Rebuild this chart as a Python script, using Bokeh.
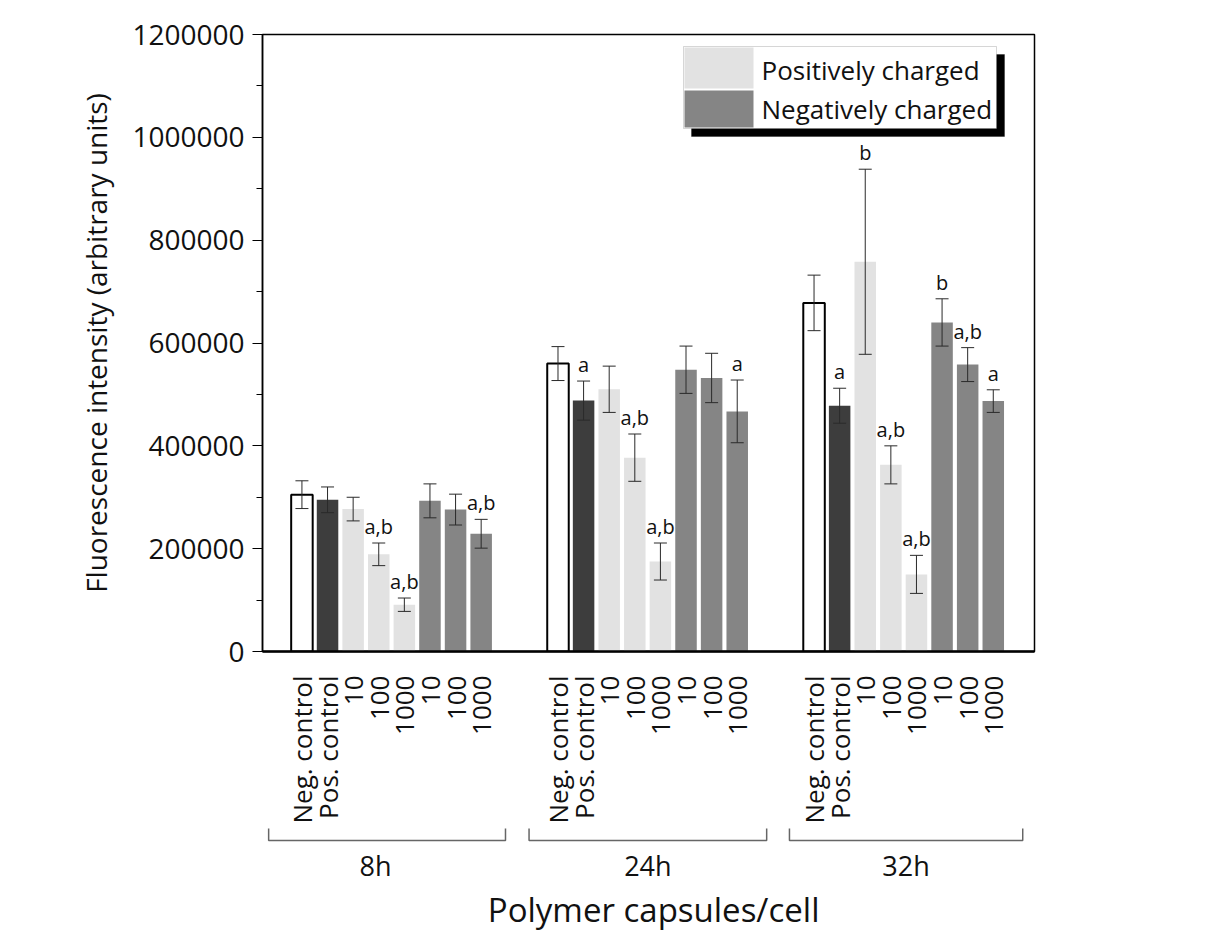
import math
from bokeh.plotting import figure
from bokeh.models import (ColumnDataSource, Range1d, FixedTicker, SingleIntervalTicker,
                          NumeralTickFormatter, Whisker, TeeHead, BoxAnnotation, Label)
from bokeh.layouts import column
from bokeh.core.properties import value
from bokeh.embed import file_html
from bokeh.resources import INLINE

# ---------------- data ----------------
groups = ["8h", "24h", "32h"]
bar_labels = ["Neg. control", "Pos. control", "10", "100", "1000", "10", "100", "1000"]
bar_kinds = ["neg", "pos", "plus", "plus", "plus", "minus", "minus", "minus"]

means_8h = [305000, 295000, 277000, 189000, 91000, 293000, 276000, 229000]
err_8h = [27000, 25000, 23000, 22000, 13000, 33000, 30000, 28000]
sig_8h = ["", "", "", "a,b", "a,b", "", "", "a,b"]

means_24h = [560000, 488000, 510000, 377000, 175000, 548000, 532000, 467000]
err_24h = [33000, 38000, 45000, 46000, 36000, 46000, 48000, 61000]
sig_24h = ["", "a", "", "a,b", "a,b", "", "", "a"]

means_32h = [678000, 478000, 758000, 363000, 150000, 640000, 558000, 487000]
err_32h = [54000, 34000, 180000, 37000, 37000, 46000, 33000, 22000]
sig_32h = ["", "a", "b", "a,b", "a,b", "b", "a,b", "a"]

legend_labels = ["Positively charged", "Negatively charged"]

# ---------------- styles ----------------
fill_map = {"neg": "white", "pos": "#3d3d3d", "plus": "#e2e2e2", "minus": "#858585"}
line_map = {"neg": "black", "pos": None, "plus": None, "minus": None}
FONT = "Open Sans"
SLOT = 10  # slots per group

means_all = [means_8h, means_24h, means_32h]
errs_all = [err_8h, err_24h, err_32h]
sigs_all = [sig_8h, sig_24h, sig_32h]

xs, tops, uppers, lowers, sigs, fills, lines, lws, tick_over = [], [], [], [], [], [], [], [], {}
for g in range(len(groups)):
    for i, lab in enumerate(bar_labels):
        x = g * SLOT + i
        m, e = means_all[g][i], errs_all[g][i]
        xs.append(x)
        tops.append(m)
        uppers.append(m + e)
        lowers.append(m - e)
        sigs.append(sigs_all[g][i])
        k = bar_kinds[i]
        fills.append(fill_map[k])
        lines.append(line_map[k] if line_map[k] else fill_map[k])
        lws.append(2 if k == "neg" else 0.01)
        tick_over[x] = lab

src = ColumnDataSource(dict(x=xs, top=tops, upper=uppers, lower=lowers, sig=sigs,
                            fill=fills, line=lines, lw=lws))

X0, X1 = -1.54, 28.61
FW = 772
LEFT_B, RIGHT_B = 262, 30
FRAME_L, FRAME_B = 262, 651

p = figure(frame_width=FW, frame_height=617, output_backend="svg", toolbar_location=None,
           x_range=Range1d(X0, X1), y_range=Range1d(0, 1200000),
           min_border_left=LEFT_B, min_border_right=RIGHT_B, min_border_top=34,
           min_border_bottom=172)
p.xgrid.visible = False
p.ygrid.visible = False
p.outline_line_color = "black"
p.outline_line_width = 1.5
p.background_fill_color = "white"

p.vbar(x="x", top="top", width=0.84, bottom=0, source=src, fill_color="fill",
       line_color="line", line_width="lw")

wh = Whisker(base="x", upper="upper", lower="lower", source=src, line_color="#2a2a2a",
             line_width=1, level="overlay",
             upper_head=TeeHead(size=13, line_color="#2a2a2a", line_width=1),
             lower_head=TeeHead(size=13, line_color="#2a2a2a", line_width=1))
p.add_layout(wh)

p.text(x="x", y="upper", text="sig", source=src, text_align="center",
       text_baseline="bottom", y_offset=-3, text_font=value(FONT),
       text_font_size="20px", text_color="#111111")

# y axis
ya = p.yaxis[0]
ya.ticker = SingleIntervalTicker(interval=200000, num_minor_ticks=2)
ya.formatter = NumeralTickFormatter(format="0")
ya.major_label_text_font = FONT
ya.major_label_text_font_size = "28px"
ya.major_label_text_color = "#111111"
ya.major_tick_out = 10
ya.major_tick_in = 0
ya.minor_tick_out = 6
ya.minor_tick_in = 0
ya.axis_line_width = 1.5
ya.major_tick_line_width = 1.2
ya.minor_tick_line_width = 1.2
ya.major_label_standoff = 8
ya.axis_label = "Fluorescence intensity (arbitrary units)"
ya.axis_label_text_font = FONT
ya.axis_label_text_font_size = "28px"
ya.axis_label_text_font_style = "normal"
ya.axis_label_text_color = "#111111"
ya.axis_label_standoff = 14

# x axis
xa = p.xaxis[0]
xa.ticker = FixedTicker(ticks=xs)
xa.major_label_overrides = tick_over
xa.major_label_orientation = math.pi / 2
xa.major_label_text_font = FONT
xa.major_label_text_font_size = "26px"
xa.major_label_text_color = "#111111"
xa.major_tick_line_color = None
xa.minor_tick_line_color = None
xa.axis_line_width = 2.5
xa.major_label_standoff = 18

# legend (drawn by hand, with shadow)
def ydat(py):
    return (FRAME_B - py) * 1200000 / 617

def xdat(px):
    return X0 + (px - FRAME_L) * (X1 - X0) / FW

p.add_layout(BoxAnnotation(left=xdat(691), right=xdat(1004), top=ydat(54), bottom=ydat(136),
                           fill_color="black", fill_alpha=1, line_color="black", level="annotation"))
p.add_layout(BoxAnnotation(left=xdat(683), right=xdat(996), top=ydat(46), bottom=ydat(128),
                           fill_color="white", fill_alpha=1, line_color="#777777", line_width=1,
                           level="annotation"))
p.add_layout(BoxAnnotation(left=xdat(684), right=xdat(753), top=ydat(47), bottom=ydat(88),
                           fill_color=fill_map["plus"], fill_alpha=1, line_color=None, level="annotation"))
p.add_layout(BoxAnnotation(left=xdat(684), right=xdat(753), top=ydat(90), bottom=ydat(127),
                           fill_color=fill_map["minus"], fill_alpha=1, line_color=None, level="annotation"))
for lab, py in zip(legend_labels, [69, 108]):
    p.add_layout(Label(x=xdat(761), y=ydat(py), text=lab, text_font=FONT, text_font_size="26px",
                       text_baseline="middle", text_color="#111111"))

# ---------------- lower panel: group brackets and x title ----------------
q = figure(frame_width=FW, frame_height=112, output_backend="svg", toolbar_location=None,
           x_range=p.x_range, y_range=Range1d(108, -4),
           min_border_left=LEFT_B, min_border_right=RIGHT_B, min_border_top=0, min_border_bottom=0)
q.axis.visible = False
q.xgrid.visible = False
q.ygrid.visible = False
q.outline_line_color = None

bracket_start = [g * SLOT - 1.3 + 0.17 * g for g in range(3)]
bracket_end = [g * SLOT + 7.95 + 0.2 * min(g, 1) for g in range(3)]
bx, by = [], []
for s, e in zip(bracket_start, bracket_end):
    bx.append([s, s, e, e])
    by.append([-2, 10, 10, -2])
q.multi_line(xs=bx, ys=by, line_color="#666666", line_width=1.5)

label_x = [(s + e) / 2 - (0.45 if i == 0 else 0) for i, (s, e) in enumerate(zip(bracket_start, bracket_end))]
q.text(x=label_x, y=[35] * 3, text=groups, text_align="center", text_baseline="middle",
       text_font=value(FONT), text_font_size="27px", text_color="#111111")
q.text(x=[(X0 + X1) / 2 + 0.2], y=[79], text=["Polymer capsules/cell"], text_align="center",
       text_baseline="middle", text_font=value(FONT), text_font_size="33px", text_color="#111111")

layout = column(p, q)
open("out.html", "w").write(file_html(layout, INLINE))
